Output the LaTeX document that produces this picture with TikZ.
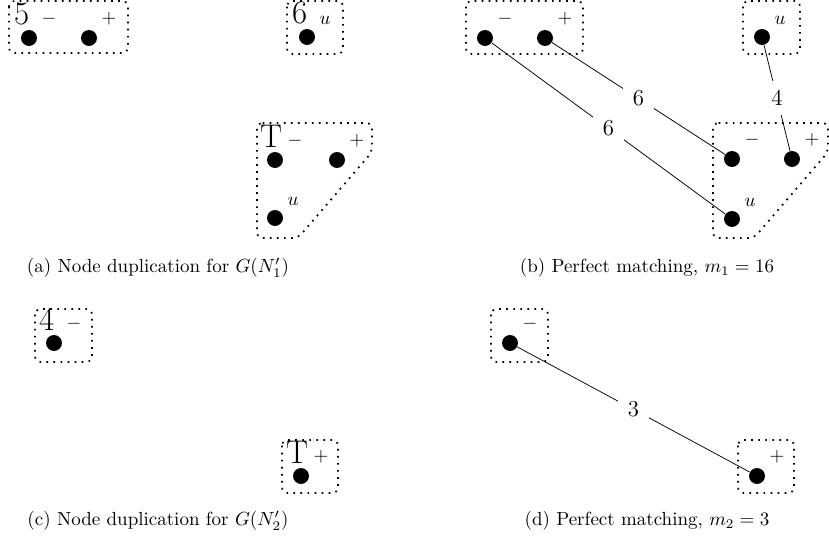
\documentclass[tikz,border=0pt]{standalone}
\begin{document}
\begin{tikzpicture}[
x=0.0185cm, y=-0.0185cm,
vertex/.style={circle, fill, inner sep=0pt, minimum size=8.4pt},
grp/.style={line width=0.9pt, dash pattern=on 0.9pt off 2.8pt, rounded corners=3pt},
tag/.style={font=\LARGE, anchor=south west, inner sep=0pt, xshift=-8pt, yshift=2pt},
weight/.style={font=\large, fill=white, inner sep=5pt}]
\useasboundingbox (0,0) rectangle (829,544);

% (a) node duplication for N'_1
\node[vertex, label={[tag]90:5}, label=above right:$-$] (a5m) at (29,38) {};
\node[vertex, label=above right:$+$] (a5p) at (89,38) {};
\node[vertex, label={[tag]90:6}, label=above right:$u$] (a6u) at (307,37) {};
\node[vertex, label={[tag]90:T}, label=above right:$-$] (aTm) at (275,160) {};
\node[vertex, label=above right:$+$] (aTp) at (337,160) {};
\node[vertex, label=above right:$u$] (aTu) at (275,218) {};
\draw[grp] (9,1) rectangle (128,53);
\draw[grp] (287,1) rectangle (343,54);
\draw[grp] (257,123) -- (372,123) -- (372,152) -- (298,238) -- (257,238) -- cycle;
\node (capa) at (158,268) {(a) Node duplication for $G(N'_1)$};

% (b) matching m_1
\node[vertex, label=above right:$-$] (b1m) at (485,38) {};
\node[vertex, label=above right:$+$] (b1p) at (545,38) {};
\node[vertex, label=above right:$u$] (b2u) at (762,37) {};
\node[vertex, label=above right:$-$] (b3m) at (732,159) {};
\node[vertex, label=above right:$+$] (b3p) at (792,159) {};
\node[vertex, label=above right:$u$] (b3u) at (732,219) {};
\draw[grp] (466,1) rectangle (583,54);
\draw[grp] (743,1) rectangle (800,54);
\draw[grp] (713,123) -- (828,123) -- (828,152) -- (754,238) -- (713,238) -- cycle;
\draw (b1m) -- node[weight] {6} (b3u);
\draw (b1p) -- node[weight] {6} (b3m);
\draw (b2u) -- node[weight] {4} (b3p);
\node (capb) at (647,268) {(b) Perfect matching, $m_1 = 16$};

% (c) node duplication for N'_2
\node[vertex, label={[tag]90:4}, label=above right:$-$] (c4m) at (54,343) {};
\node[vertex, label={[tag]90:T}, label=above right:$+$] (cTp) at (301,476) {};
\draw[grp] (35,309) rectangle (92,362);
\draw[grp] (282,440) rectangle (338,493);
\node (capc) at (158,521) {(c) Node duplication for $G(N'_2)$};

% (d) matching m_2
\node[vertex, label=above right:$-$] (d1m) at (510,343) {};
\node[vertex, label=above right:$+$] (d2p) at (757,476) {};
\draw[grp] (491,309) rectangle (548,362);
\draw[grp] (738,440) rectangle (794,493);
\draw (d1m) -- node[weight] {3} (d2p);
\node (capd) at (647,521) {(d) Perfect matching, $m_2 = 3$};
\end{tikzpicture}
\end{document}
